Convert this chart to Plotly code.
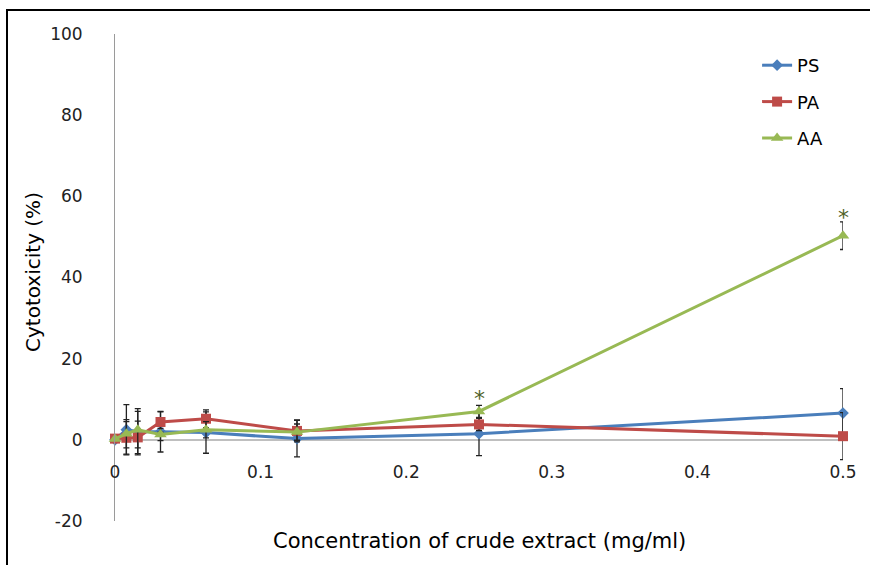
import plotly.graph_objects as go

# Crude extract concentrations (mg/ml)
concentration = [0, 0.0078125, 0.015625, 0.03125, 0.0625, 0.125, 0.25, 0.5]

# Cytotoxicity (%) and standard deviations for each extract
ps_values = [0.0, 2.5, 2.0, 2.0, 1.8, 0.3, 1.5, 6.6]
ps_errors = [0.0, 6.2, 5.7, 5.0, 5.1, 4.5, 5.4, 6.0]

pa_values = [0.3, 0.5, 0.6, 4.4, 5.2, 2.2, 3.8, 0.9]
pa_errors = [0.0, 4.0, 4.0, 2.5, 2.2, 2.7, 1.5, 5.8]

aa_values = [0.2, 1.5, 2.5, 1.3, 2.5, 1.9, 7.0, 50.3]
aa_errors = [0.0, 3.5, 4.5, 1.5, 2.0, 2.0, 1.5, 3.4]

# Significance marks (x, y)
sig_x = [0.25, 0.5]
sig_y = [10.8, 55.4]

x_ticks = [0, 0.1, 0.2, 0.3, 0.4, 0.5]
x_tick_text = ["0", "0.1", "0.2", "0.3", "0.4", "0.5"]
y_ticks = [-20, 0, 20, 40, 60, 80, 100]
y_tick_text = ["-20", "0", "20", "40", "60", "80", "100"]

FONT = "DejaVu Sans"

# Plot-area geometry in pixels
L, R, T, B = 115, 843, 34, 521
W, H = R - L, B - T

series = [
    ("PS", ps_values, ps_errors, "#4A7EBB", "diamond", 9),
    ("PA", pa_values, pa_errors, "#BE4B48", "square", 10),
    ("AA", aa_values, aa_errors, "#98B954", "triangle-up", 11),
]

fig = go.Figure()
for name, vals, errs, color, symbol, size in series:
    fig.add_trace(go.Scatter(
        x=concentration, y=vals, name=name, mode="lines+markers",
        line=dict(color=color, width=3),
        marker=dict(symbol=symbol, size=size, color=color),
        error_y=dict(type="data", array=errs, visible=True,
                     color="#222222", thickness=1.3, width=3),
        cliponaxis=False, legendgroup=name,
    ))

for sx, sy in zip(sig_x, sig_y):
    fig.add_annotation(x=sx, y=sy, text="*", showarrow=False,
                       font=dict(family=FONT, size=22, color="#4F6228"),
                       yshift=-2)

# Axis titles
fig.add_annotation(xref="paper", yref="paper", x=0.5, y=(B - 541) / H,
                   text="Concentration of crude extract (mg/ml)", showarrow=False,
                   font=dict(family=FONT, size=21, color="#000000"),
                   xanchor="center", yanchor="middle")
fig.add_annotation(xref="paper", yref="paper", x=(33 - L) / W, y=(B - 272) / H,
                   text="Cytotoxicity (%)", showarrow=False, textangle=-90,
                   font=dict(family=FONT, size=20, color="#000000"),
                   xanchor="center", yanchor="middle")

fig.update_layout(
    width=870, height=565,
    margin=dict(l=L, r=870 - R, t=T, b=565 - B),
    paper_bgcolor="white", plot_bgcolor="white",
    font=dict(family=FONT, color="#000000"),
    showlegend=True,
    legend=dict(x=0.882, y=(B - 47) / H, xanchor="left", yanchor="top",
                font=dict(family=FONT, size=18, color="#000000"),
                bgcolor="rgba(0,0,0,0)", tracegroupgap=10,
                traceorder="grouped"),
    xaxis=dict(range=[0, 0.5], tickvals=x_ticks, ticktext=x_tick_text,
               showgrid=False, zeroline=False, showline=False,
               anchor="free", position=(B - 440) / H,
               ticks="outside", ticklen=17, tickcolor="rgba(0,0,0,0)",
               tickfont=dict(family=FONT, size=17, color="#222222")),
    yaxis=dict(range=[-20, 100], tickvals=y_ticks, ticktext=y_tick_text,
               showgrid=False, zeroline=True, zerolinecolor="#BFBFBF", zerolinewidth=1.5,
               showline=True, linecolor="#9A9A9A", linewidth=1,
               ticklabelstandoff=28,
               tickfont=dict(family=FONT, size=17, color="#222222")),
)

# Chart-area frame (top and left edges fall inside the canvas)
fig.add_shape(type="rect", xref="paper", yref="paper",
              x0=(7 - L) / W, x1=1.3, y0=-0.3, y1=(B - 10) / H,
              line=dict(color="black", width=2), layer="below")

fig.write_html("out.html")
